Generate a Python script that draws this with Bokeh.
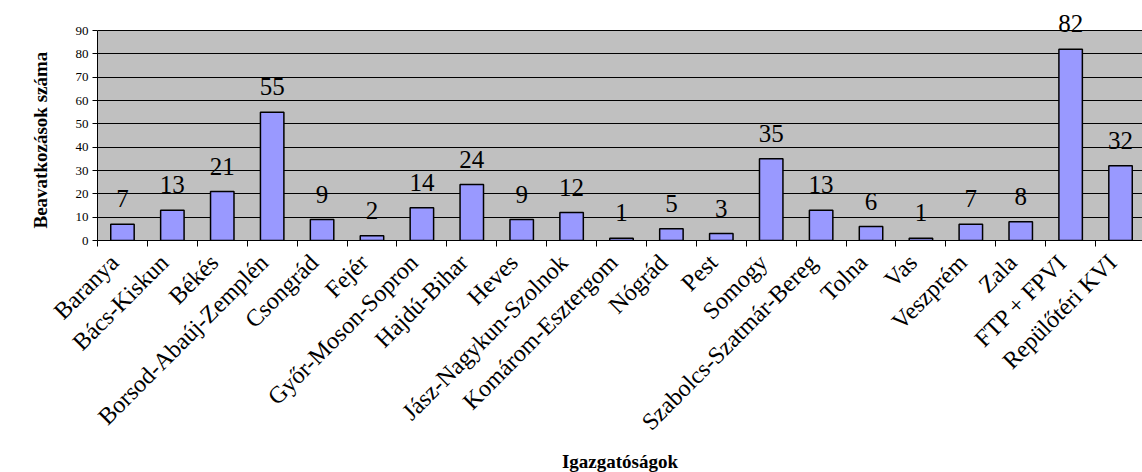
from bokeh.plotting import figure
from bokeh.models import ColumnDataSource, FixedTicker, LabelSet, Range1d, BoxAnnotation, Title
from bokeh.core.properties import value
from bokeh.embed import file_html
from bokeh.resources import INLINE
import math

categories = ["Baranya", "Bács-Kiskun", "Békés", "Borsod-Abaúj-Zemplén", "Csongrád",
              "Fejér", "Győr-Moson-Sopron", "Hajdú-Bihar", "Heves",
              "Jász-Nagykun-Szolnok", "Komárom-Esztergom", "Nógrád", "Pest",
              "Somogy", "Szabolcs-Szatmár-Bereg", "Tolna", "Vas", "Veszprém",
              "Zala", "FTP + FPVI", "Repülőtéri KVI"]
values = [7, 13, 21, 55, 9, 2, 14, 24, 9, 12, 1, 5, 3, 35, 13, 6, 1, 7, 8, 82, 32]
y_ticks = [0, 10, 20, 30, 40, 50, 60, 70, 80, 90]
y_title = "Beavatkozások száma"
x_title = "Igazgatóságok"

FONT = "Liberation Serif"
n = len(categories)
xs = [i + 0.5 for i in range(n)]
label_pos = [x - 0.16 for x in xs]

src = ColumnDataSource(dict(x=xs, top=values, lab=[str(v) for v in values]))

p = figure(frame_width=1045, frame_height=240, output_backend="svg",
           toolbar_location=None,
           x_range=Range1d(0, 20.94), y_range=Range1d(0, 102.86),
           min_border_left=97, min_border_right=0, min_border_top=0,
           min_border_bottom=0)
p.background_fill_color = "white"
p.border_fill_color = "white"
p.outline_line_color = None

# grey plot area from 0 to 90
p.add_layout(BoxAnnotation(bottom=0, top=90, fill_color="#C0C0C0", fill_alpha=1,
                           line_color=None, level="image"))

p.vbar(x="x", top="top", bottom=0, width=0.47, source=src,
       fill_color="#9999FF", line_color="black", line_width=1.5)

# grid
p.xgrid.visible = False
p.ygrid.ticker = FixedTicker(ticks=y_ticks)
p.ygrid.grid_line_color = "black"
p.ygrid.grid_line_width = 1

# y axis
p.yaxis.ticker = FixedTicker(ticks=y_ticks)
p.yaxis.bounds = (0, 90)
p.yaxis.major_label_text_font = FONT
p.yaxis.major_label_text_font_size = "13px"
p.yaxis.major_label_text_color = "black"
p.yaxis.major_tick_out = 5
p.yaxis.major_tick_in = 0
p.yaxis.minor_tick_line_color = None
p.yaxis.axis_line_color = "black"
p.yaxis.major_tick_line_color = "black"
p.yaxis.major_label_standoff = 4

p.add_layout(Title(text=y_title, align="left", offset=12, standoff=40,
                   vertical_align="top", text_line_height=2.0,
                   text_font=FONT, text_font_size="19px", text_font_style="bold",
                   text_color="black"), "left")

# x axis
p.xaxis.ticker = FixedTicker(ticks=label_pos, minor_ticks=list(range(n + 1)))
p.xaxis.major_label_overrides = {x: c for x, c in zip(label_pos, categories)}
p.xaxis.major_label_orientation = math.pi / 4
p.xaxis.major_label_text_font = FONT
p.xaxis.major_label_text_font_size = "24px"
p.xaxis.major_label_text_color = "black"
p.xaxis.major_tick_line_color = None
p.xaxis.minor_tick_line_color = "black"
p.xaxis.minor_tick_out = 6
p.xaxis.minor_tick_in = 0
p.xaxis.axis_line_color = "black"
p.xaxis.major_label_standoff = 12
p.xaxis.axis_label = x_title
p.xaxis.axis_label_text_font = FONT
p.xaxis.axis_label_text_font_size = "19px"
p.xaxis.axis_label_text_font_style = "bold"
p.xaxis.axis_label_text_color = "black"
p.xaxis.axis_label_standoff = 4

labels = LabelSet(x="x", y="top", text="lab", source=src, text_align="center",
                  text_baseline="bottom", y_offset=17,
                  text_font=value(FONT), text_font_size=value("25px"),
                  text_color=value("black"))
p.add_layout(labels)

open("out.html", "w").write(file_html(p, INLINE))
